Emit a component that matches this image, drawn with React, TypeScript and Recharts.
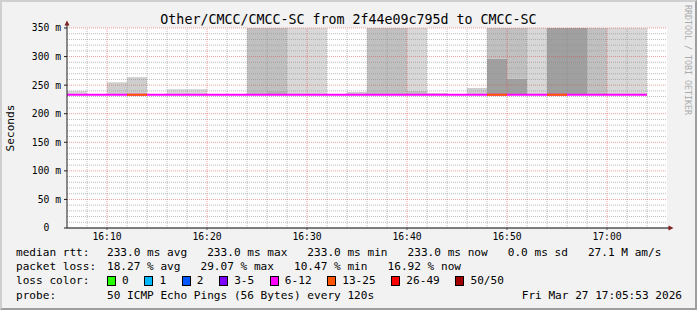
import React from 'react';
import {
  ComposedChart, Bar, Line, XAxis, YAxis, CartesianGrid, ReferenceLine, Cell,
} from 'recharts';

// 2-minute steps, each slot starts at the given time
const SLOTS = [
  '16:06', '16:08', '16:10', '16:12', '16:14', '16:16', '16:18', '16:20', '16:22', '16:24',
  '16:26', '16:28', '16:30', '16:32', '16:34', '16:36', '16:38', '16:40', '16:42', '16:44',
  '16:46', '16:48', '16:50', '16:52', '16:54', '16:56', '16:58', '17:00', '17:02', '17:04',
];

// median rtt per slot (ms), last slot has no data yet
const MEDIAN = [
  233, 233, 233, 233, 233, 233, 233, 233, 233, 233,
  233, 233, 233, 233, 233, 233, 233, 233, 233, 233,
  233, 233, 233, 233, 233, 233, 233, 233, 233, null,
];

// lost pings out of 50 per slot
const LOST = [
  8, 9, 10, 15, 9, 8, 9, 8, 9, 11,
  10, 9, 8, 10, 9, 10, 9, 8, 9, 10,
  9, 15, 12, 10, 14, 11, 10, 9, 9, null,
];

// smoke: from SMOKE_LOW up to SMOKE_TOP, with a denser core up to CORE_TOP
const SMOKE_LOW = 233;
const SMOKE_TOP = [
  240, null, 255, 264, null, 243, 243, null, null, 350,
  350, 350, 350, null, 238, 350, 350, 350, 236, null,
  245, 350, 350, 350, 350, 350, 350, 350, 350, null,
];
const CORE_TOP = [
  null, null, null, null, null, null, null, null, null, null,
  241, null, null, null, null, null, null, 240, null, null,
  null, 296, 261, null, null, null, null, null, null, null,
];
// smoke density level 0 (thin) .. 4 (dense)
const SMOKE_LEVEL = [
  0, null, 1, 1, null, 0, 0, null, null, 2,
  2, 0, 0, null, 1, 2, 2, 0, 1, null,
  1, 2, 2, 0, 4, 4, 2, 0, 0, null,
];
const CORE_LEVEL = [
  null, null, null, null, null, null, null, null, null, null,
  3, null, null, null, null, null, null, 2, null, null,
  null, 4, 4, null, null, null, null, null, null, null,
];

const Y_TICKS = [0, 50, 100, 150, 200, 250, 300, 350];
const X_TICKS = ['16:10', '16:20', '16:30', '16:40', '16:50', '17:00'];

const LOSS_BUCKETS = [
  { label: '0', max: 0, color: '#26ff00' },
  { label: '1', max: 1, color: '#00b8ff' },
  { label: '2', max: 2, color: '#0059ff' },
  { label: '3-5', max: 5, color: '#7e00ff' },
  { label: '6-12', max: 12, color: '#ff00ff' },
  { label: '13-25', max: 25, color: '#ff5500' },
  { label: '26-49', max: 49, color: '#ff0000' },
  { label: '50/50', max: 50, color: '#a10000' },
];

const SMOKE_COLORS = ['#d8d8d8', '#cecece', '#c0c0c0', '#b4b4b4', '#a0a0a0'];
const MONO = "'DejaVu Sans Mono', monospace";

const toMin = (s: string) => {
  const [h, m] = s.split(':').map(Number);
  return h * 60 + m;
};
const fmtMin = (v: number) => `${Math.floor(v / 60)}:${String(v % 60).padStart(2, '0')}`;

const bucketOf = (i: number) => {
  const l = LOST[i];
  if (l == null) return -1;
  return LOSS_BUCKETS.findIndex((b) => l <= b.max);
};
const medianAt = (i: number) => MEDIAN[i] ?? (i > 0 ? MEDIAN[i - 1] : null);

const rows = SLOTS.map((slot, i) => {
  const top = SMOKE_TOP[i];
  const core = CORE_TOP[i];
  const row: Record<string, any> = {
    slot,
    t: toMin(slot),
    base: top != null ? SMOKE_LOW : 0,
    core: core != null ? core - SMOKE_LOW : 0,
    outer: top != null ? top - (core ?? SMOKE_LOW) : 0,
  };
  LOSS_BUCKETS.forEach((_, b) => {
    row[`m${b}`] = bucketOf(i) === b || (i > 0 && bucketOf(i - 1) === b) ? medianAt(i) : null;
  });
  return row;
});

const usedBuckets = LOSS_BUCKETS.map((b, i) => ({ ...b, i })).filter((b) => rows.some((r) => r[`m${b.i}`] != null));

const T0 = toMin(SLOTS[0]);
const T1 = toMin(SLOTS[SLOTS.length - 1]) + 2;
const vGrid = Array.from({ length: (T1 - T0) / 2 - 1 }, (_, k) => T0 + 2 + k * 2);
const hGrid = Array.from({ length: 35 }, (_, k) => (k + 1) * 10);

const MINOR = 'rgba(143,143,143,0.6)';
const MAJOR = 'rgba(222,79,79,0.55)';

const line = (top: number, left = 16): React.CSSProperties => ({
  position: 'absolute', left, top, fontSize: 11.1, lineHeight: '14px', whiteSpace: 'pre', color: '#000',
});

export default function App() {
  return (
    <div style={{ position: 'relative', width: 697, height: 310, background: '#f2f2f2', fontFamily: MONO, overflow: 'hidden' }}>
      <style>{'body{margin:0}'}</style>
      <div style={{ position: 'absolute', left: 0, top: 0 }}>
        <ComposedChart width={697} height={310} data={rows} margin={{ top: 28, right: 30, bottom: 52, left: 7 }}
          barCategoryGap={0} barGap={0}>
          <CartesianGrid fill="#ffffff" horizontal={false} vertical={false} />
          <XAxis xAxisId="cat" dataKey="slot" type="category" hide height={0} />
          <XAxis xAxisId="time" dataKey="t" type="number" domain={[T0, T1]} allowDataOverflow
            ticks={X_TICKS.map(toMin)} tickFormatter={fmtMin} height={30}
            axisLine={{ stroke: '#000' }} tickLine={{ stroke: '#555' }} tickSize={2} tickMargin={3}
            tick={{ fontSize: 9.7, fontFamily: MONO, fill: '#000' }} />
          <YAxis domain={[0, 350]} ticks={Y_TICKS} width={60} allowDataOverflow
            tickFormatter={(v: number) => (v === 0 ? '0\u00a0\u00a0' : `${v} m`)}
            axisLine={{ stroke: '#1f1f1f' }} tickLine={{ stroke: '#1f1f1f' }} tickSize={3} tickMargin={3}
            tick={{ fontSize: 9.7, fontFamily: MONO, fill: '#000' }} />
          <Bar xAxisId="cat" dataKey="base" stackId="s" fill="transparent" isAnimationActive={false} />
          <Bar xAxisId="cat" dataKey="core" stackId="s" isAnimationActive={false}>
            {rows.map((_, i) => <Cell key={i} fill={SMOKE_COLORS[CORE_LEVEL[i] ?? 0]} />)}
          </Bar>
          <Bar xAxisId="cat" dataKey="outer" stackId="s" isAnimationActive={false}>
            {rows.map((_, i) => <Cell key={i} fill={SMOKE_COLORS[SMOKE_LEVEL[i] ?? 0]} />)}
          </Bar>
          {hGrid.map((v) => (
            <ReferenceLine key={`h${v}`} y={v} xAxisId="time" stroke={v % 50 === 0 ? MAJOR : MINOR} strokeDasharray="1 1" />
          ))}
          {vGrid.map((v) => (
            <ReferenceLine key={`v${v}`} x={v} xAxisId="time" stroke={v % 10 === 0 ? MAJOR : MINOR} strokeDasharray="1 1" />
          ))}
          {usedBuckets.map((b) => (
            <Line key={b.label} xAxisId="time" type="stepAfter" dataKey={`m${b.i}`} stroke={b.color}
              strokeWidth={2} dot={false} activeDot={false} connectNulls={false} isAnimationActive={false} />
          ))}
        </ComposedChart>
      </div>
      <svg width={697} height={310} style={{ position: 'absolute', left: 0, top: 0, pointerEvents: 'none' }}>
        <line x1={67} y1={28} x2={67} y2={23} stroke="#1f1f1f" />
        <polygon points="64.5,25.5 67,20.5 69.5,25.5" fill="#801f1f" />
        <line x1={667} y1={228} x2={669} y2={228} stroke="#000" />
        <polygon points="668.5,225.5 673.5,228 668.5,230.5" fill="#801f1f" />
      </svg>
      <div style={{ position: 'absolute', left: 0, top: 12, width: 697, textAlign: 'center', fontSize: 13.3, lineHeight: '16px', whiteSpace: 'pre' }}>
        Other/CMCC/CMCC-SC from 2f44e09c795d to CMCC-SC
      </div>
      <div style={{ position: 'absolute', left: 11, top: 128, fontSize: 11.1, lineHeight: '14px', transform: 'translate(-50%,-50%) rotate(-90deg)' }}>
        Seconds
      </div>
      <div style={{ position: 'absolute', left: 688, top: 60, fontSize: 8.3, lineHeight: '10px', color: '#ababab', whiteSpace: 'pre', transform: 'translate(-50%,-50%) rotate(90deg)' }}>
        RRDTOOL / TOBI OETIKER
      </div>
      <div style={line(246)}>median rtt:</div>
      <div style={line(246, 107)}>233.0 ms avg   233.0 ms max   233.0 ms min   233.0 ms now   0.0 ms sd   27.1 M am/s</div>
      <div style={line(260)}>packet loss:</div>
      <div style={line(260, 107)}>18.27 % avg   29.07 % max   10.47 % min   16.92 % now</div>
      <div style={line(274)}>loss color:</div>
      <div style={{ ...line(274, 107), display: 'flex', alignItems: 'center' }}>
        {LOSS_BUCKETS.map((b) => (
          <span key={b.label} style={{ display: 'flex', alignItems: 'center', marginRight: 15.7 }}>
            <span style={{ width: 9, height: 10, boxSizing: 'border-box', border: '1px solid #000', background: b.color, marginRight: 6 }} />
            {b.label}
          </span>
        ))}
      </div>
      <div style={line(289)}>probe:</div>
      <div style={line(289, 107)}>50 ICMP Echo Pings (56 Bytes) every 120s</div>
      <div style={{ ...line(289), left: 'auto', right: 15 }}>Fri Mar 27 17:05:53 2026</div>
      <div style={{ position: 'absolute', inset: 0, borderTop: '2px solid #cfcfcf', borderLeft: '2px solid #cfcfcf', borderRight: '2px solid #9e9e9e', borderBottom: '2px solid #9e9e9e', pointerEvents: 'none' }} />
    </div>
  );
}
